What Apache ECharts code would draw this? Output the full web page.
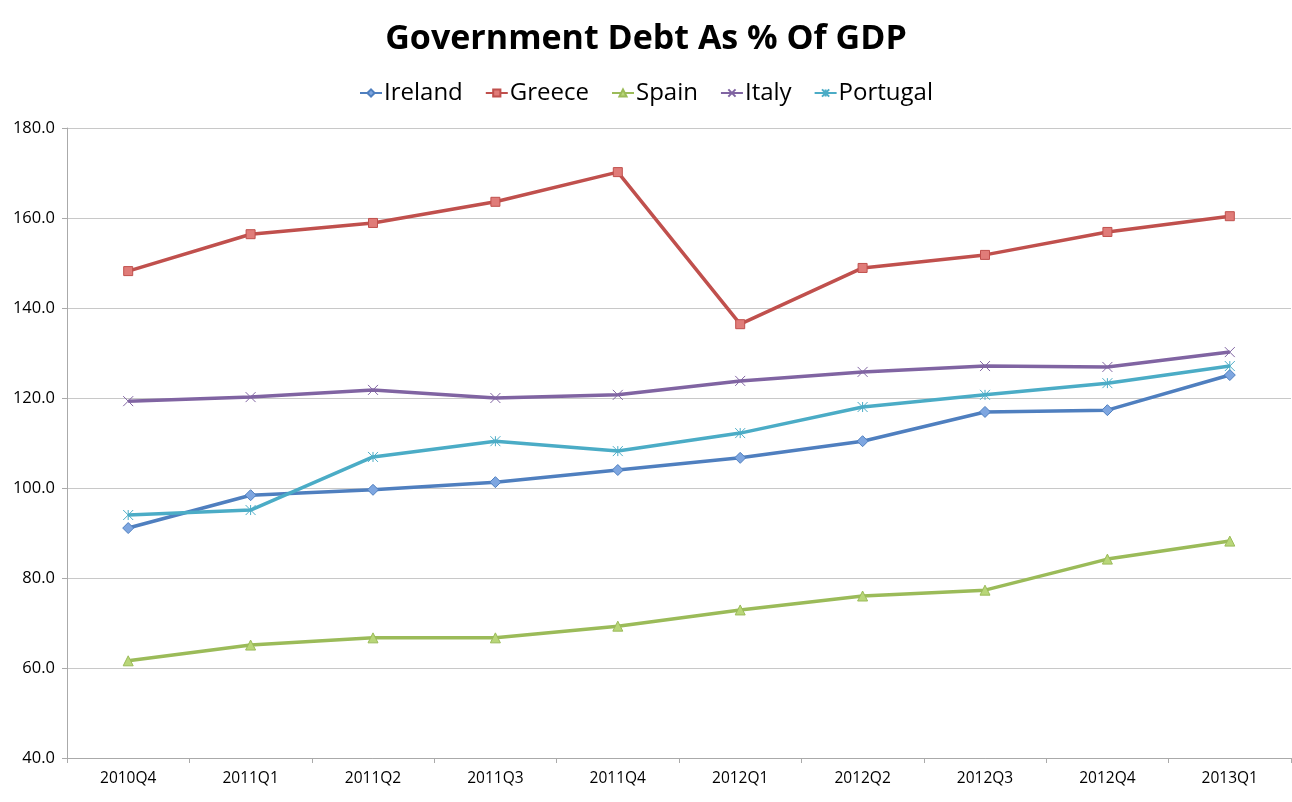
<!DOCTYPE html>
<html>
<head>
<meta charset="utf-8">
<script src="https://cdn.jsdelivr.net/npm/echarts@6/dist/echarts.min.js"></script>
<style>
  html, body { margin: 0; padding: 0; background: #fff; }
  #chart { width: 1292px; height: 802px; }
</style>
</head>
<body>
<div id="chart"></div>
<script>
  var quarters = ['2010Q4', '2011Q1', '2011Q2', '2011Q3', '2011Q4', '2012Q1', '2012Q2', '2012Q3', '2012Q4', '2013Q1'];
  var ireland = [91.1, 98.4, 99.6, 101.3, 104.0, 106.7, 110.4, 116.9, 117.3, 125.1];
  var greece = [148.2, 156.4, 158.9, 163.6, 170.2, 136.4, 148.9, 151.8, 156.9, 160.4];
  var spain = [61.6, 65.1, 66.7, 66.7, 69.3, 72.9, 76.0, 77.3, 84.2, 88.2];
  var italy = [119.3, 120.2, 121.8, 120.0, 120.7, 123.8, 125.8, 127.1, 126.9, 130.2];
  var portugal = [94.0, 95.1, 106.9, 110.4, 108.2, 112.2, 118.0, 120.7, 123.3, 127.1];

  var crossPath = 'path://M0,0L10,10M10,0L0,10';
  var starPath = 'path://M0,0L10,10M10,0L0,10M5,0L5,10';

  function makeSeries(name, data, color, symbol, size, fill) {
    return {
      name: name,
      type: 'line',
      data: data,
      symbol: symbol,
      symbolSize: size,
      lineStyle: { color: color, width: 3.5 },
      itemStyle: { color: fill, borderColor: color, borderWidth: 1 },
      emphasis: { disabled: true }
    };
  }

  var myChart = echarts.init(document.getElementById('chart'));
  myChart.setOption({
    animation: false,
    title: {
      text: 'Government Debt As % Of GDP',
      left: 'center',
      top: 17,
      textStyle: { fontFamily: 'Open Sans', fontWeight: 'bold', fontSize: 34, color: '#000' }
    },
    legend: {
      top: 76,
      left: 'center',
      itemWidth: 22,
      itemHeight: 9,
      itemGap: 22,
      textStyle: { fontFamily: 'Open Sans', fontSize: 24, color: '#000', padding: [0, 0, 0, -3] },
      data: ['Ireland', 'Greece', 'Spain', 'Italy', 'Portugal']
    },
    grid: { left: 67, right: 1, top: 128, bottom: 44 },
    xAxis: {
      type: 'category',
      data: quarters,
      boundaryGap: true,
      axisLine: { lineStyle: { color: '#aaa' } },
      axisTick: { show: true, length: 5, lineStyle: { color: '#aaa' } },
      axisLabel: { fontFamily: 'Open Sans', fontSize: 15.5, color: '#000', margin: 13 }
    },
    yAxis: {
      type: 'value',
      min: 40,
      max: 180,
      interval: 20,
      axisLine: { show: true, lineStyle: { color: '#aaa' } },
      axisTick: { show: true, length: 5, lineStyle: { color: '#aaa' } },
      splitLine: { lineStyle: { color: '#c8c8c8' } },
      axisLabel: {
        fontFamily: 'Open Sans', fontSize: 16.5, color: '#000', margin: 12,
        formatter: function (v) { return v.toFixed(1); }
      }
    },
    series: [
      makeSeries('Ireland', ireland, '#4f7fbf', 'diamond', 11, '#7ea6e0'),
      makeSeries('Greece', greece, '#c0504d', 'rect', 9, '#e07c79'),
      makeSeries('Spain', spain, '#9bbb59', 'triangle', 10, '#b8d678'),
      makeSeries('Italy', italy, '#8064a2', crossPath, 10, 'none'),
      makeSeries('Portugal', portugal, '#4bacc6', starPath, 10, 'none')
    ]
  });
</script>
</body>
</html>
